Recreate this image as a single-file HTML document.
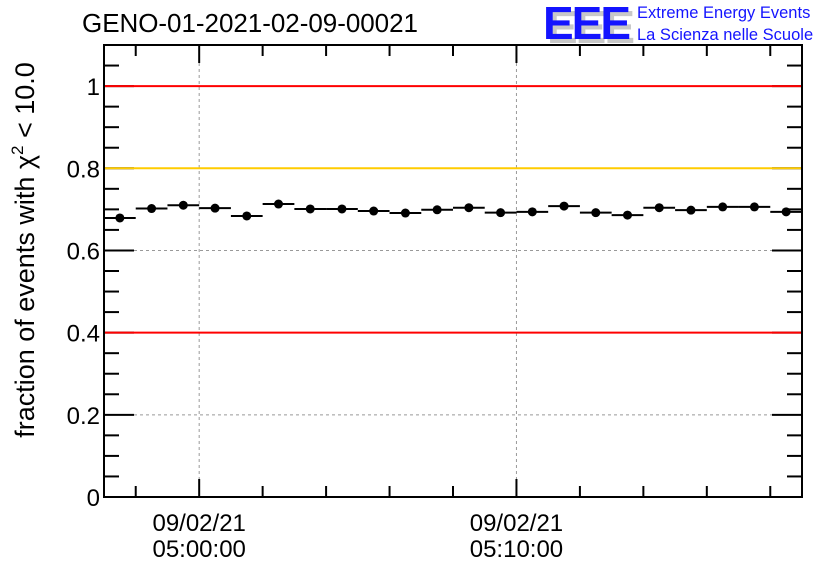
<!DOCTYPE html>
<html><head><meta charset="utf-8"><style>
body{margin:0;background:#fff;}
svg{display:block;font-family:"Liberation Sans",sans-serif;}
</style></head><body>
<svg id="c" width="836" height="572">
<text x="82" y="32" font-size="26" textLength="336">GENO-01-2021-02-09-00021</text>
<g>
<text x="547" y="43" font-size="46" font-weight="bold" fill="#c8c8c8" letter-spacing="-2">EEE</text>
<text x="543" y="39" font-size="46" font-weight="bold" fill="#1414ff" letter-spacing="-2">EEE</text>
<text x="637" y="18" font-size="16.5" fill="#1414ff">Extreme Energy Events</text>
<text x="637" y="40" font-size="16.5" fill="#1414ff">La Scienza nelle Scuole</text>
</g>
<text transform="translate(34,250) rotate(-90)" text-anchor="middle" font-size="27">fraction of events with χ<tspan dy="-11" font-size="17">2</tspan><tspan dy="11"> &lt; 10.0</tspan></text>
<g id="plot"></g>
</svg>
<script>
const values=[0.679,0.702,0.710,0.703,0.684,0.713,0.701,0.701,0.696,0.691,0.699,0.704,0.692,0.694,0.708,0.692,0.686,0.704,0.698,0.706,0.706,0.694];
const errors=[0.006,0.006,0.006,0.006,0.006,0.006,0.006,0.006,0.006,0.006,0.006,0.006,0.006,0.006,0.006,0.006,0.006,0.006,0.006,0.006,0.006,0.006];
const yTicks=[0,0.2,0.4,0.6,0.8,1];
const yTickLabels=["0","0.2","0.4","0.6","0.8","1"];
const refLines=[1.0,0.8,0.4];
const refColors=["#ff0000","#ffcc00","#ff0000"];
const xStartMin=-3;
const xEndMin=19;
const xLabelMins=[0,10];
const xLabels=[["09/02/21","05:00:00"],["09/02/21","05:10:00"]];
const L=104,R=802,T=45,B=497,YMAX=1.1;
const X=m=>L+(m-xStartMin)/(xEndMin-xStartMin)*(R-L);
const Y=v=>B-v/YMAX*(B-T);
const NS="http://www.w3.org/2000/svg";
const g=document.getElementById('plot');
function mk(t,a,name){const e=document.createElementNS(NS,t);for(const k in a)e.setAttribute(k,a[k]);


g.appendChild(e);return e;}
yTicks.slice(1,4).forEach(v=>mk('line',{x1:L,x2:R,y1:Y(v),y2:Y(v),stroke:'#999','stroke-dasharray':'3,3'},'y-grid-line'));
xLabelMins.forEach(m=>mk('line',{x1:X(m),x2:X(m),y1:T,y2:B,stroke:'#999','stroke-dasharray':'3,3'},'x-grid-line'));
for(let k=0;k<=22;k++){const v=k*0.05,maj=k%4==0,len=maj?30:15;
mk('line',{x1:L,x2:L+len,y1:Y(v),y2:Y(v),stroke:'#000','stroke-width':2},'y-tick');
mk('line',{x1:R,x2:R-len,y1:Y(v),y2:Y(v),stroke:'#000','stroke-width':2},'y-tick-right');}
refLines.forEach((v,i)=>mk('line',{x1:L,x2:R,y1:Y(v),y2:Y(v),stroke:refColors[i],'stroke-width':2},'reference-line'));
mk('rect',{x:L,y:T,width:R-L,height:B-T,fill:'none',stroke:'#000','stroke-width':2},'plot-frame');
yTicks.forEach((v,i)=>{const t=mk('text',{x:L-4,y:Y(v)+9,'text-anchor':'end','font-size':24},'y-tick-label');t.textContent=yTickLabels[i];});
for(let m=-2;m<xEndMin;m+=2){const maj=m%10==0,len=maj?18:11;
mk('line',{x1:X(m),x2:X(m),y1:B,y2:B-len,stroke:'#000','stroke-width':2},'x-tick');
mk('line',{x1:X(m),x2:X(m),y1:T,y2:T+len,stroke:'#000','stroke-width':2},'x-tick-top');}
xLabelMins.forEach((m,i)=>{const t=mk('text',{x:X(m),y:531,'text-anchor':'middle','font-size':24},'x-tick-label');t.textContent=xLabels[i][0];
const t2=mk('text',{x:X(m),y:557,'text-anchor':'middle','font-size':24},'x-tick-label');t2.textContent=xLabels[i][1];});
values.forEach((v,i)=>{const x0=X(xStartMin+i),x1=X(xStartMin+i+1),cx=(x0+x1)/2,cy=Y(v);
mk('line',{x1:x0,x2:x1,y1:cy,y2:cy,stroke:'#000','stroke-width':2},'bin-width-bar');
mk('line',{x1:cx,x2:cx,y1:Y(v-errors[i]),y2:Y(v+errors[i]),stroke:'#000','stroke-width':2},'error-bar');
mk('circle',{cx:cx,cy:cy,r:4.5,fill:'#000'},'data-point');});
</script>
</body></html>
